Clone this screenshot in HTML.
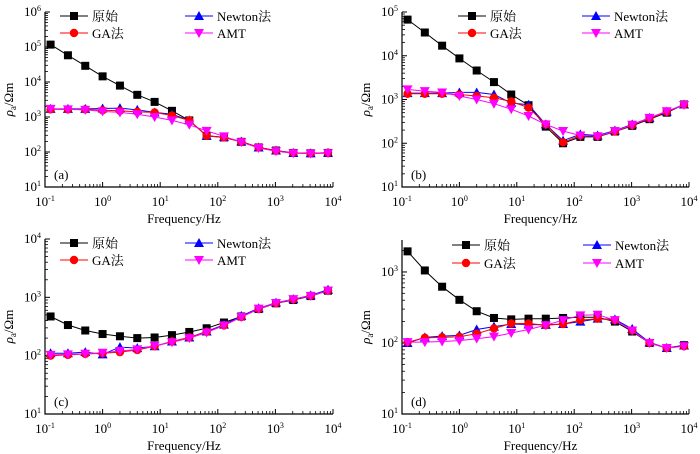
<!DOCTYPE html>
<html><head><meta charset="utf-8">
<style>
body{margin:0;background:#fff;}
svg{display:block;font-family:"Liberation Serif","Noto Serif CJK SC","Noto Sans CJK SC",serif;}
</style></head>
<body>
<svg id="chart" width="700" height="454" viewBox="0 0 700 454" xmlns="http://www.w3.org/2000/svg"></svg>
<script>
const freqs=[0.125,0.25,0.5,1,2,4,8,16,32,64,128,256,512,1024,2048,4096,8192];
const seriesNames=["原始","GA法","Newton法","AMT"];
// panel a
const aOrig=[117000,58000,29000,14500,7900,4300,2700,1500,800,290,260,195,135,110,94,92,94];
const aGA=[1650,1650,1650,1550,1500,1400,1350,1100,800,290,260,195,135,108,94,92,95];
const aNewton=[1700,1700,1700,1750,1800,1600,1350,1200,800,290,265,200,135,110,94,92,95];
const aAMT=[1700,1650,1600,1450,1350,1200,1000,800,600,400,280,190,130,105,92,90,92];
// panel b
const bOrig=[67000,34000,17000,8700,4600,2500,1300,740,240,100,140,140,185,250,355,500,770];
const bGA=[1350,1350,1350,1300,1200,1100,900,650,270,105,150,145,185,260,370,520,760];
const bNewton=[1400,1400,1400,1450,1450,1300,830,760,270,115,160,150,195,270,380,530,770];
const bAMT=[1700,1550,1450,1200,1000,800,600,420,270,190,150,145,190,265,380,540,750];
// panel c
const cOrig=[470,335,270,235,215,200,205,225,255,295,370,470,630,790,900,1050,1300];
const cGA=[100,103,107,110,115,125,145,175,205,255,330,460,630,790,920,1060,1300];
const cNewton=[110,110,115,105,140,135,145,175,205,260,340,480,650,810,930,1080,1350];
const cAMT=[103,105,108,112,120,128,148,170,200,250,330,460,640,800,930,1060,1300];
// panel d
const dOrig=[1950,1050,620,405,280,225,215,220,220,225,230,230,200,145,100,85,93];
const dGA=[103,118,120,122,135,160,188,188,178,185,210,220,210,150,100,85,90];
const dNewton=[100,120,125,128,155,170,185,182,180,185,200,220,215,158,102,85,92];
const dAMT=[103,103,105,108,115,123,138,155,178,210,245,250,210,150,100,85,90];

const xTickExps=[-1,0,1,2,3,4];
const NS="http://www.w3.org/2000/svg";
const svg=document.getElementById('chart');
function mk(tag,attrs,parent){const e=document.createElementNS(NS,tag);for(const k in attrs)e.setAttribute(k,attrs[k]);(parent||svg).appendChild(e);return e;}

const colors=["#000000","#ff0000","#0000ff","#ff00ff"];
const lineColors=["#000000","#ff0000","#0000ff","#ff00ff"];

function marker(kind,x,y,c,g){
  let el;
  if(kind===0) el=mk('rect',{x:x-4,y:y-4,width:8,height:8,fill:c},g);
  else if(kind===1) el=mk('circle',{cx:x,cy:y,r:4.2,fill:c},g);
  else if(kind===2) el=mk('polygon',{points:`${x},${y-5} ${x-5},${y+4} ${x+5},${y+4}`,fill:c},g);
  else el=mk('polygon',{points:`${x},${y+5} ${x-5},${y-4} ${x+5},${y-4}`,fill:c},g);
  return el;
}

function panel(id,L,R,T,B,yMinExp,yMaxLog,yTickExps,data,label,legX,legX2,legY,legDy){
  const g=mk('g',{});
  
  
  const xs=v=>L+(Math.log10(v)+1)/5*(R-L);
  const ys=v=>B-(Math.log10(v)-yMinExp)/(yMaxLog-yMinExp)*(B-T);
  const ax=mk('path',{d:`M${L},${T} L${L},${B} L${R},${B}`,stroke:'#000','stroke-width':1.2,fill:'none'},g);
  
  
  xTickExps.forEach(e=>{
    const x=xs(Math.pow(10,e));
    mk('line',{x1:x,y1:B,x2:x,y2:B-5,stroke:'#000','stroke-width':1},g);
    const t=mk('text',{x:x,y:B+19,'font-size':13,'text-anchor':'middle'},g);
    
    
    t.innerHTML='10<tspan dy="-5" font-size="8">'+e+'</tspan>';
    if(e<4){for(let m=2;m<10;m++){const xm=xs(m*Math.pow(10,e));mk('line',{x1:xm,y1:B,x2:xm,y2:B-3,stroke:'#000','stroke-width':0.8},g);}}
  });
  for(let e=yMinExp;e<=Math.floor(yMaxLog);e++){
    for(let m=2;m<10;m++){const v=m*Math.pow(10,e);if(Math.log10(v)>yMaxLog)break;const y=ys(v);mk('line',{x1:L,y1:y,x2:L+3,y2:y,stroke:'#000','stroke-width':0.8},g);}
  }
  yTickExps.forEach(e=>{
    const y=ys(Math.pow(10,e));
    mk('line',{x1:L,y1:y,x2:L+5,y2:y,stroke:'#000','stroke-width':1},g);
    const t=mk('text',{x:L-4,y:y+4,'font-size':13,'text-anchor':'end'},g);
    
    
    t.innerHTML='10<tspan dy="-5" font-size="8">'+e+'</tspan>';
  });
  const xt=mk('text',{x:(L+R)/2-5,y:B+36,'font-size':13,'text-anchor':'middle'},g);
  
  
  xt.textContent='Frequency/Hz';
  const cy=(T+B)/2;
  const yt=mk('text',{x:0,y:0,'font-size':13,'text-anchor':'middle',transform:`translate(${L-32},${cy}) rotate(-90)`},g);
  
  
  yt.innerHTML='<tspan font-style="italic">ρ</tspan><tspan font-size="9" dy="3">a</tspan><tspan dy="-3">/Ωm</tspan>';
  const pl=mk('text',{x:L+9,y:B-8,'font-size':13},g);
  
  
  pl.textContent=label;
  [0,2,1,3].forEach(k=>{
    const arr=data[k];
    const sg=mk('g',{},g);
    
    
    const d=arr.map((v,i)=>(i?'L':'M')+xs(freqs[i]).toFixed(1)+','+ys(v).toFixed(1)).join(' ');
    mk('path',{d:d,stroke:lineColors[k],'stroke-width':1,fill:'none'},sg);
    arr.forEach((v,i)=>{const m=marker(k,xs(freqs[i]),ys(v),colors[k],sg);
      
      });
  });
  const lg=mk('g',{},g);
  
  
  const pos=[[0,0],[0,1],[1,0],[1,1]];
  pos.forEach((p,k)=>{
    const lx=L+(p[0]?legX2:legX), ly=T+legY+p[1]*legDy;
    const eg=mk('g',{},lg);
    
    
    mk('line',{x1:lx,y1:ly,x2:lx+28,y2:ly,stroke:lineColors[k],'stroke-width':1},eg);
    marker(k,lx+14,ly,colors[k],eg);
    const t=mk('text',{x:lx+32,y:ly+5,'font-size':13},eg);
    t.textContent=seriesNames[k];
  });
}

panel('a',45,333,12,187,1,6,[1,2,3,4,5,6],[aOrig,aGA,aNewton,aAMT],'(a)',15,140,4,17);
panel('b',402,689,12,187,1,5,[1,2,3,4,5],[bOrig,bGA,bNewton,bAMT],'(b)',56,180,4,17);
panel('c',45,333,239,414,1,4,[1,2,3,4],[cOrig,cGA,cNewton,cAMT],'(c)',15,140,4,17);
panel('d',402,689,240,414,1,3.45,[1,2,3],[dOrig,dGA,dNewton,dAMT],'(d)',50,181,5,18);
</script>
</body></html>
